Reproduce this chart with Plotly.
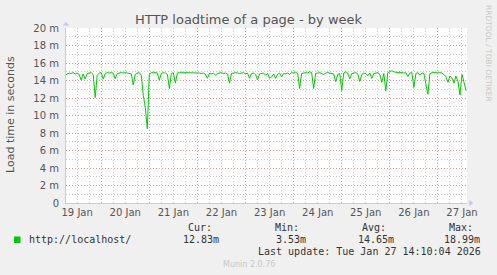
import plotly.graph_objects as go
import pandas as pd

# ---- data ----
start_time = "2026-01-19 06:00"
load_ms = [
    14.6, 14.7, 14.85, 14.8, 14.9, 14.75, 14.85, 14.7, 14.06, 14.75,
    14.17, 14.8, 14.85, 14.9, 14.7, 12.05, 14.6, 14.85, 14.9, 14.15,
    14.8, 14.9, 14.85, 14.9, 14.85, 14.2, 14.8, 14.85, 14.9, 14.85,
    14.9, 14.85, 14.8, 14.75, 13.5, 14.7, 14.85, 14.9, 14.6, 12.3,
    10.9, 8.5, 14.7, 14.9, 14.95, 14.9, 14.85, 14.05, 14.8, 14.9,
    14.85, 14.7, 13.1, 14.8, 14.9, 13.7, 14.85, 14.9, 14.95, 14.9,
    14.9, 14.85, 14.9, 14.9, 14.85, 14.9, 14.9, 14.85, 14.8, 14.85,
    14.7, 14.25, 14.8, 14.75, 14.85, 14.6, 14.8, 14.85, 14.9, 14.8,
    14.85, 14.75, 13.7, 14.8, 14.85, 14.9, 14.85, 14.8, 14.85, 14.9,
    14.75, 14.85, 14.25, 14.8, 14.85, 14.7, 14.06, 14.75, 14.8, 14.85,
    14.6, 14.8, 14.25, 14.4, 14.75, 14.25, 14.7, 14.85, 14.4, 14.8,
    14.75, 14.85, 14.7, 14.9, 14.85, 14.95, 14.8, 13.1, 14.8, 14.85,
    14.9, 14.85, 15.0, 14.9, 13.1, 14.8, 14.85, 14.9, 14.8, 14.7,
    14.85, 14.9, 14.85, 14.8, 14.75, 13.85, 14.7, 14.8, 12.85, 14.85,
    15.0, 14.85, 14.2, 14.8, 14.85, 14.9, 14.75, 13.87, 14.7, 14.85,
    14.8, 14.55, 14.85, 14.25, 14.8, 14.85, 14.9, 14.7, 13.8, 14.8,
    12.82, 14.9, 15.0, 15.12, 15.0, 14.95, 14.9, 14.95, 14.9, 14.85,
    14.9, 14.45, 14.85, 14.9, 13.2, 14.8, 14.9, 14.6, 14.85, 14.8,
    13.55, 12.42, 14.8, 14.9, 14.95, 14.9, 14.85, 14.9, 14.85, 14.7,
    14.45, 13.8, 14.5, 14.3, 13.7, 14.5, 13.9, 12.34, 14.7, 13.8, 12.83,
]
y_tick_vals = [0, 2, 4, 6, 8, 10, 12, 14, 16, 18, 20]
y_tick_text = ["0", "2 m", "4 m", "6 m", "8 m", "10 m", "12 m", "14 m", "16 m", "18 m", "20 m"]
y_minor_vals = [1, 3, 5, 7, 9, 11, 13, 15, 17, 19]
x_range = ["2026-01-19 06:26", "2026-01-27 14:30"]

title_text = "HTTP loadtime of a page - by week"
y_title = "Load time in seconds"
series_name = "http://localhost/"
stat_labels = ["Cur:", "Min:", "Avg:", "Max:"]
stat_values = ["12.83m", "3.53m", "14.65m", "18.99m"]
last_update = "Last update: Tue Jan 27 14:10:04 2026"
footer = "Munin 2.0.76"
side_text = "RRDTOOL / TOBI OETIKER"

# ---- layout geometry (pixels) ----
W, H = 497, 275
L, R, T, B = 66, 30, 28, 72
PW, PH = W - L - R, H - T - B

def px(x):
    return (x - L) / PW

def py(y):
    return (H - B - y) / PH

times = pd.date_range(start_time, periods=len(load_ms), freq="h")

green = "#00CC00"
major_grid = "#E39393"
minor_grid = "#CDCDCD"
axis_col = "#C8C8F5"
txt = "#555555"
mono = "DejaVu Sans Mono"

fig = go.Figure()
fig.add_trace(go.Scatter(x=times, y=load_ms, mode="lines",
                         line=dict(color=green, width=1), showlegend=False,
                         hoverinfo="skip"))

fig.update_layout(
    width=W, height=H,
    margin=dict(l=L, r=R, t=T, b=B, pad=0),
    paper_bgcolor="#F0F0F0", plot_bgcolor="#FFFFFF",
    font=dict(family="DejaVu Sans", size=10, color=txt),
    title=dict(text=title_text, x=0.5, xref="container", xanchor="center",
               y=1 - 19 / H, yref="container", yanchor="middle",
               font=dict(family="DejaVu Sans", size=13, color="#555555")),
    xaxis=dict(type="date", range=x_range, tick0="2026-01-19 00:00",
               dtick=86400000, ticklabelmode="period", tickformat="%d %b",
               showgrid=True, gridcolor=major_grid, gridwidth=1, griddash="1px,2px",
               ticks="", showline=True, linecolor=axis_col, linewidth=1,
               zeroline=False, tickfont=dict(size=10, color=txt),
               minor=dict(dtick=6 * 3600 * 1000, tick0="2026-01-19 00:00",
                          showgrid=True, gridcolor=minor_grid, gridwidth=1,
                          griddash="1px,2px")),
    yaxis=dict(range=[0, 20], tickmode="array", tickvals=y_tick_vals, ticktext=y_tick_text,
               showgrid=True, gridcolor=major_grid, gridwidth=1, griddash="1px,2px",
               ticks="", showline=True, linecolor=axis_col, linewidth=1,
               zeroline=False, tickfont=dict(size=10, color=txt), ticklabelstandoff=4,
               minor=dict(tickmode="array", tickvals=y_minor_vals, showgrid=True,
                          gridcolor=minor_grid, gridwidth=1, griddash="1px,2px")),
)

ann = []
# y axis title
ann.append(dict(text=y_title, x=px(10), y=py(115), xref="paper", yref="paper",
                textangle=-90, showarrow=False, xanchor="center", yanchor="middle",
                font=dict(family="DejaVu Sans", size=11, color=txt)))
# side text
ann.append(dict(text=side_text, x=px(489), y=py(54), xref="paper", yref="paper",
                textangle=90, showarrow=False, xanchor="center", yanchor="middle",
                font=dict(family="DejaVu Sans", size=7.5, color="#C8C8C8")))
# axis arrows
ann.append(dict(x=0, y=py(22), xref="paper", yref="paper", ax=0, ay=6, text="",
                showarrow=True, arrowhead=1, arrowsize=1.2, arrowwidth=1, arrowcolor=axis_col))
ann.append(dict(x=px(473), y=0, xref="paper", yref="paper", ax=-6, ay=0, text="",
                showarrow=True, arrowhead=1, arrowsize=1.2, arrowwidth=1, arrowcolor=axis_col))
# legend
ann.append(dict(text=series_name, x=px(26.5), y=py(239.5), xref="paper", yref="paper",
                showarrow=False, xanchor="left", yanchor="middle",
                font=dict(family=mono, size=10, color="#333333")))
label_left = [185.7, 272.7, 360, 446.7]
value_right = [220.7, 308.3, 395.7, 482.3]
for lab, val, xl, xr in zip(stat_labels, stat_values, label_left, value_right):
    ann.append(dict(text=lab, x=px(xl), y=py(227), xref="paper", yref="paper",
                    showarrow=False, xanchor="left", yanchor="middle",
                    font=dict(family=mono, size=10, color="#333333")))
    ann.append(dict(text=val, x=px(xr), y=py(239.5), xref="paper", yref="paper",
                    showarrow=False, xanchor="right", yanchor="middle",
                    font=dict(family=mono, size=10, color="#333333")))
ann.append(dict(text=last_update, x=px(482.5), y=py(251.5), xref="paper", yref="paper",
                showarrow=False, xanchor="right", yanchor="middle",
                font=dict(family=mono, size=10, color="#333333")))
ann.append(dict(text=footer, x=px(W / 2), y=py(264), xref="paper", yref="paper",
                showarrow=False, xanchor="center", yanchor="middle",
                font=dict(family="DejaVu Sans", size=8, color="#C8C8C8")))
fig.update_layout(annotations=ann)

fig.add_shape(type="rect", xref="paper", yref="paper",
              x0=px(14), x1=px(20.5), y0=py(236.5), y1=py(243),
              fillcolor=green, line=dict(width=0))

fig.write_html("out.html")
